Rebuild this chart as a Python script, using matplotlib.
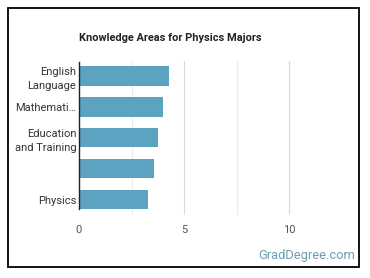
import matplotlib
matplotlib.use("Agg")
import matplotlib.pyplot as plt
from matplotlib.patches import Rectangle

categories = ["English\nLanguage", "Mathemati\u2026", "Education\nand Training", "", "Physics"]
values = [4.29, 4.0, 3.77, 3.58, 3.3]
xticks = [0, 5, 10]
title = "Knowledge Areas for Physics Majors"
watermark = "GradDegree.com"

plt.rcParams['font.family'] = ['Roboto', 'DejaVu Sans']

W, H = 370, 278
fig = plt.figure(figsize=(W / 100, H / 100), dpi=100)
fig.patch.set_facecolor('white')

# frame
fig.patches.append(Rectangle((8 / W, 1 - 267 / H), (359 - 8) / W, (267 - 8) / H,
                             transform=fig.transFigure, fill=False,
                             edgecolor='black', linewidth=1.3))

ax_left, ax_right, ax_top, ax_bottom = 79, 341.5, 60.5, 215
ax = fig.add_axes([ax_left / W, 1 - ax_bottom / H, (ax_right - ax_left) / W, (ax_bottom - ax_top) / H])

y = list(range(len(categories)))
ax.barh(y, values, height=0.63, color='#5ba3c1', zorder=3)
ax.set_ylim(len(categories) - 0.5, -0.5)
ax.set_xlim(0, 12.5)

for g in [2.5, 7.5]:
    ax.axvline(g, color='#ececec', linewidth=0.8, zorder=1)
for g in [5, 10]:
    ax.axvline(g, color='#d9d9d9', linewidth=0.8, zorder=1)

for s in ['top', 'right', 'bottom']:
    ax.spines[s].set_visible(False)
ax.spines['left'].set_color('#222222')
ax.spines['left'].set_linewidth(1.0)
ax.spines['left'].set_bounds(-0.45, 4.32)
ax.spines['left'].set_zorder(4)

ax.set_yticks(y)
ax.set_yticklabels(categories, fontsize=8, color='#333333', linespacing=1.5)
ax.tick_params(axis='y', length=0, pad=2)
ax.set_xticks(xticks)
ax.set_xticklabels([str(t) for t in xticks], fontsize=8, color='#555555')
ax.tick_params(axis='x', length=0, pad=7)

fig.text(79 / W, 1 - 38 / H, title, fontsize=7.9, fontweight='bold', color='#222222',
         ha='left', va='center')
fig.text(355 / W, 1 - 255 / H, watermark, fontsize=9.3, color='#6a9fb8', ha='right', va='center')

fig.savefig("out.png", dpi=100, facecolor='white')
